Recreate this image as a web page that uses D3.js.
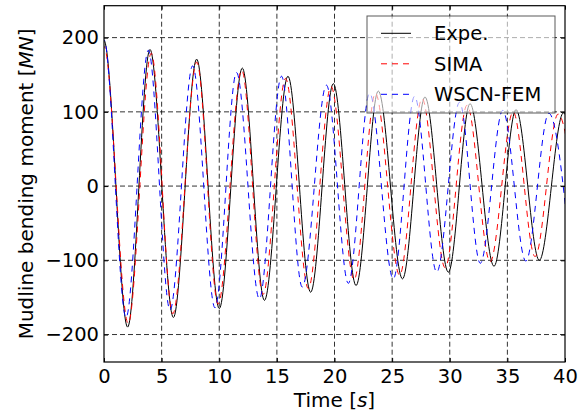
<!DOCTYPE html>
<html><head><meta charset="utf-8">
<script src="https://cdn.jsdelivr.net/npm/d3@7"></script>
<style>body{margin:0;background:#fff} svg{display:block} text{font-family:"DejaVu Sans",sans-serif;fill:#000}</style>
</head><body><svg id="c" width="586" height="414"></svg>
<script>
// Turning points (time [s], moment [MN])
const expeT = [-1.95, 0, 2.05, 3.99, 6.02, 8.04, 10.0, 12.0, 13.92, 15.96, 17.93, 19.9, 21.87, 23.8, 25.9, 27.85, 29.88, 31.76, 33.84, 35.75, 37.77, 39.86, 41.8];
const expeV = [-190, 196, -190, 184, -177, 171, -165, 159, -154, 148, -143, 138, -134, 128, -125, 120, -116, 111, -108, 103, -100, 98.5, -95];
const simaT = [-1.95, 0, 2.1, 4.1, 5.97, 8.05, 9.9, 11.95, 13.8, 15.75, 17.73, 19.7, 21.7, 23.55, 25.65, 27.6, 29.6, 31.5, 33.5, 35.5, 37.4, 39.4, 41.35];
const simaV = [-185, 188, -185, 179, -172, 167, -159, 156, -146, 145, -138, 134, -126, 125, -120, 118, -110, 109, -102, 100, -95, 97, -92];
const wscnT = [-1.9, 0, 1.91, 3.85, 5.73, 7.69, 9.63, 11.5, 13.48, 15.4, 17.2, 19.3, 21.2, 23.05, 25.1, 26.95, 28.87, 30.85, 32.65, 34.6, 36.6, 38.6, 40.5];
const wscnV = [-177, 197, -177, 183, -167, 162, -164, 153, -152, 148, -136, 136, -131, 125, -125, 121, -116, 113, -104, 102, -101, 98, -97];
const seriesNames = ["Expe.", "SIMA", "WSCN-FEM"];
const xTicks = [0, 5, 10, 15, 20, 25, 30, 35, 40];
const yTicks = [-200, -100, 0, 100, 200];

const L = 104, R = 565, T = 5.7, B = 362;
const x = d3.scaleLinear().domain([0, 40]).range([L, R]);
const y = d3.scaleLinear().domain([-237, 243]).range([B, T]);
const svg = d3.select("#c");
svg.append("rect").attr("width", 586).attr("height", 414).attr("fill", "#fff");

// grid
const grid = svg.append("g").attr("stroke", "#000").attr("stroke-width", 1).attr("stroke-dasharray", "5,3").attr("stroke-opacity", 0.8);
grid.selectAll("line.v").data(xTicks.slice(1, -1)).join("line")
  .attr("x1", d => x(d)).attr("x2", d => x(d)).attr("y1", T).attr("y2", B);
grid.selectAll("line.h").data(yTicks).join("line").attr("class", "h")
  .attr("x1", L).attr("x2", R).attr("y1", d => y(d)).attr("y2", d => y(d));

svg.append("clipPath").attr("id", "clip").append("rect")
  .attr("x", L).attr("y", T).attr("width", R - L).attr("height", B - T);

const line = d3.line().x(d => x(d[0])).y(d => y(d[1])).curve(d3.curveMonotoneX);
const series = [
  {name: seriesNames[0], pts: d3.zip(expeT, expeV), color: "#000", dash: null},
  {name: seriesNames[1], pts: d3.zip(simaT, simaV), color: "#ff0000", dash: "6,5"},
  {name: seriesNames[2], pts: d3.zip(wscnT, wscnV), color: "#0000ff", dash: "6,5"}
];
const plot = svg.append("g").attr("clip-path", "url(#clip)");
series.forEach(s => {
  plot.append("path").attr("d", line(s.pts)).attr("fill", "none")
    .attr("stroke", s.color).attr("stroke-width", 1)
    .attr("stroke-dasharray", s.dash);
});

// axes (inward ticks on all sides)
const fs = "19.5px";
const ax = svg.append("g").attr("transform", `translate(0,${B})`)
  .call(d3.axisBottom(x).tickValues(xTicks).tickSize(-4).tickPadding(7.5).tickFormat(d3.format("d")));
const ay = svg.append("g").attr("transform", `translate(${L},0)`)
  .call(d3.axisLeft(y).tickValues(yTicks).tickSize(-4).tickPadding(5).tickFormat(d3.format("d")));
const at = svg.append("g").attr("transform", `translate(0,${T})`)
  .call(d3.axisTop(x).tickValues(xTicks).tickSize(-4).tickFormat(""));
const ar = svg.append("g").attr("transform", `translate(${R},0)`)
  .call(d3.axisRight(y).tickValues(yTicks).tickSize(-4).tickFormat(""));
[ax, ay, at, ar].forEach(g => {
  g.select(".domain").remove();
  g.selectAll("line").attr("stroke", "#000").attr("stroke-width", 1);
  g.selectAll("text").attr("font-size", fs).attr("font-family", "DejaVu Sans").attr("fill", "#000");
});
svg.append("rect").attr("x", L).attr("y", T).attr("width", R - L).attr("height", B - T)
  .attr("fill", "none").attr("stroke", "#000").attr("stroke-width", 1.2);

// axis labels
const xl = svg.append("text").attr("x", (L + R) / 2).attr("y", 406.7).attr("text-anchor", "middle").attr("font-size", "20px");
xl.append("tspan").text("Time [");
xl.append("tspan").attr("font-style", "italic").text("s");
xl.append("tspan").text("]");
const yl = svg.append("text").attr("transform", `translate(33.3,${(T + B) / 2}) rotate(-90)`).attr("text-anchor", "middle").attr("font-size", "20px");
yl.append("tspan").text("Mudline bending moment [");
yl.append("tspan").attr("font-style", "italic").text("MN");
yl.append("tspan").text("]");

// legend
const lg = svg.append("g");
lg.append("rect").attr("x", 367).attr("y", 16).attr("width", 188).attr("height", 97)
  .attr("fill", "#fff").attr("fill-opacity", 0.6).attr("stroke", "#000").attr("stroke-opacity", 0.65).attr("stroke-width", 1);
series.forEach((s, i) => {
  const yy = 33.3 + i * 30.5;
  lg.append("line").attr("x1", 381).attr("x2", 411).attr("y1", yy).attr("y2", yy)
    .attr("stroke", s.color).attr("stroke-width", 1).attr("stroke-dasharray", s.dash);
  lg.append("text").attr("x", 434).attr("y", yy).attr("dy", "0.36em").attr("font-size", fs).text(s.name);
});
</script></body></html>
